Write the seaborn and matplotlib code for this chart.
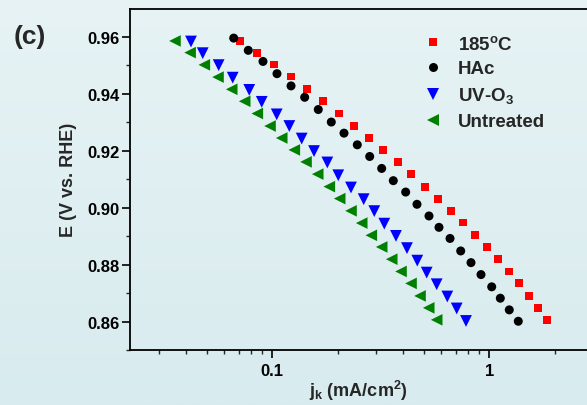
import numpy as np
import pandas as pd
import matplotlib
matplotlib.use("Agg")
import matplotlib.pyplot as plt
from matplotlib.colors import LinearSegmentedColormap
from matplotlib.ticker import LogLocator, FixedLocator, NullFormatter, FuncFormatter
import seaborn as sns

# ---- data ----
labels = ["185$^\\mathbf{o}$C", "HAc", "UV-O$_\\mathbf{3}$", "Untreated"]

j_185 = [0.0708, 0.0853, 0.1021, 0.1216, 0.1450, 0.1713, 0.2029, 0.2386, 0.2799, 0.3247,
         0.3783, 0.4371, 0.5055, 0.5802, 0.6662, 0.7563, 0.8593, 0.9727, 1.093, 1.228,
         1.366, 1.519, 1.671, 1.851]
E_185 = [0.9586, 0.9545, 0.9503, 0.9461, 0.9416, 0.9374, 0.9331, 0.9287, 0.9245, 0.9203,
         0.9162, 0.9118, 0.9074, 0.9031, 0.8988, 0.8948, 0.8903, 0.8862, 0.8819, 0.8776,
         0.8734, 0.8691, 0.8648, 0.8605]

j_hac = [0.0664, 0.0775, 0.0906, 0.1051, 0.1220, 0.1410, 0.1629, 0.1870, 0.2140, 0.2464,
         0.2811, 0.3192, 0.3611, 0.4118, 0.4643, 0.5274, 0.5864, 0.6592, 0.7384, 0.8236,
         0.9158, 1.026, 1.124, 1.236, 1.360]
E_hac = [0.9596, 0.9553, 0.9514, 0.9471, 0.9428, 0.9388, 0.9345, 0.9301, 0.9262, 0.9221,
         0.9180, 0.9138, 0.9095, 0.9055, 0.9012, 0.8971, 0.8931, 0.8892, 0.8848, 0.8807,
         0.8765, 0.8722, 0.8682, 0.8641, 0.8601]

j_uv = [0.0422, 0.0478, 0.0566, 0.0657, 0.0783, 0.0894, 0.1048, 0.1198, 0.1366, 0.1557,
        0.1793, 0.2014, 0.2305, 0.2637, 0.2951, 0.3282, 0.3715, 0.4175, 0.4658, 0.5147,
        0.5722, 0.6405, 0.7077, 0.7810]
E_uv = [0.9584, 0.9543, 0.9501, 0.9457, 0.9414, 0.9372, 0.9328, 0.9287, 0.9243, 0.9199,
        0.9159, 0.9114, 0.9071, 0.9030, 0.8988, 0.8944, 0.8901, 0.8858, 0.8814, 0.8772,
        0.8731, 0.8688, 0.8646, 0.8602]

j_un = [0.0356, 0.0418, 0.0486, 0.0562, 0.0650, 0.0746, 0.0853, 0.0976, 0.1105, 0.1263,
        0.1430, 0.1619, 0.1831, 0.2044, 0.2305, 0.2582, 0.2859, 0.3192, 0.3550, 0.3918,
        0.4357, 0.4794, 0.5257, 0.5722]
E_un = [0.9586, 0.9545, 0.9502, 0.9459, 0.9416, 0.9374, 0.9331, 0.9287, 0.9245, 0.9203,
        0.9161, 0.9118, 0.9074, 0.9032, 0.8989, 0.8946, 0.8903, 0.8862, 0.8819, 0.8776,
        0.8734, 0.8690, 0.8648, 0.8606]

y_ticks = [0.86, 0.88, 0.90, 0.92, 0.94, 0.96]
x_ticks = [0.1, 1]

# ---- styling ----
sns.set_style("ticks")
plt.rcParams["font.family"] = ["Liberation Sans", "DejaVu Sans"]
plt.rcParams["font.weight"] = "bold"
plt.rcParams["mathtext.fontset"] = "custom"
plt.rcParams["mathtext.bf"] = "Liberation Sans:bold"
plt.rcParams["mathtext.rm"] = "Liberation Sans:bold"
plt.rcParams["mathtext.default"] = "bf"

colors = {labels[0]: "#ff0000", labels[1]: "#000000", labels[2]: "#0000ff", labels[3]: "#008000"}
markers = {labels[0]: "s", labels[1]: "o", labels[2]: "v", labels[3]: "<"}
sizes = {labels[0]: 32, labels[1]: 42, labels[2]: 72, labels[3]: 70}

frames = []
for lab, jj, ee in zip(labels, [j_185, j_hac, j_uv, j_un], [E_185, E_hac, E_uv, E_un]):
    frames.append(pd.DataFrame({"j": jj, "E": ee, "sample": lab}))
df = pd.concat(frames, ignore_index=True)

W, H = 587, 406
fig = plt.figure(figsize=(W / 100, H / 100), dpi=100)

# background gradient
bg = fig.add_axes([0, 0, 1, 1], zorder=-10)
cmap = LinearSegmentedColormap.from_list("bg", ["#e7f3f5", "#d8ebee"])
bg.imshow(np.linspace(0, 1, 256).reshape(-1, 1), aspect="auto", cmap=cmap,
          extent=[0, 1, 0, 1])
bg.set_axis_off()

left_px, right_px, top_px, bottom_px = 129.6, 587.0, 9.5, 351.0
ax = fig.add_axes([left_px / W, (H - bottom_px) / H,
                   (right_px - left_px) / W, (bottom_px - top_px) / H])
ax.set_facecolor("none")

sns.scatterplot(data=df, x="j", y="E", hue="sample", style="sample", size="sample",
                palette=colors, markers=markers, sizes=sizes, linewidth=0,
                ax=ax, legend="full")

ax.set_xscale("log")
ax.set_xlim(0.022, 2.82)
ax.set_ylim(0.85, 0.97)

ax.xaxis.set_major_locator(FixedLocator(x_ticks))
ax.xaxis.set_major_formatter(FuncFormatter(lambda v, p: "%g" % v))
ax.xaxis.set_minor_locator(LogLocator(base=10, subs=np.arange(2, 10) * 1.0, numticks=20))
ax.xaxis.set_minor_formatter(NullFormatter())
ax.set_yticks(y_ticks)
ax.set_yticklabels(["%.2f" % v for v in y_ticks])
ax.yaxis.set_minor_locator(FixedLocator([0.85, 0.87, 0.89, 0.91, 0.93, 0.95]))

for s in ["left", "bottom", "top"]:
    ax.spines[s].set_linewidth(1.3)
    ax.spines[s].set_color("black")
ax.spines["right"].set_visible(False)
ax.tick_params(axis="both", which="major", direction="out", length=5.5, width=1.2,
               labelsize=12, pad=2, colors="black")
ax.tick_params(axis="both", which="minor", direction="out", length=3, width=1.0)
ax.tick_params(axis="x", which="both", top=False)
ax.tick_params(axis="x", which="major", pad=4)
for t in ax.get_xticklabels() + ax.get_yticklabels():
    t.set_fontweight("bold")

ax.set_xlabel("j$_\\mathbf{k}$ (mA/cm$^\\mathbf{2}$)", fontsize=13, fontweight="bold", labelpad=0)
ax.set_ylabel("E (V vs. RHE)", fontsize=13, fontweight="bold", labelpad=7)

handles, labs = ax.get_legend_handles_labels()
ax.legend(handles, labs, loc="upper left", bbox_to_anchor=(416.5 / W, (H - 28) / H),
          bbox_transform=fig.transFigure, frameon=False,
          prop={"weight": "bold", "size": 13.5}, handlelength=1.0, handletextpad=0.8,
          labelspacing=0.42, borderaxespad=0)

fig.text(30 / W, (H - 37) / H, "(c)", fontsize=19, fontweight="bold",
         ha="center", va="center")

fig.savefig("out.png", dpi=100)
